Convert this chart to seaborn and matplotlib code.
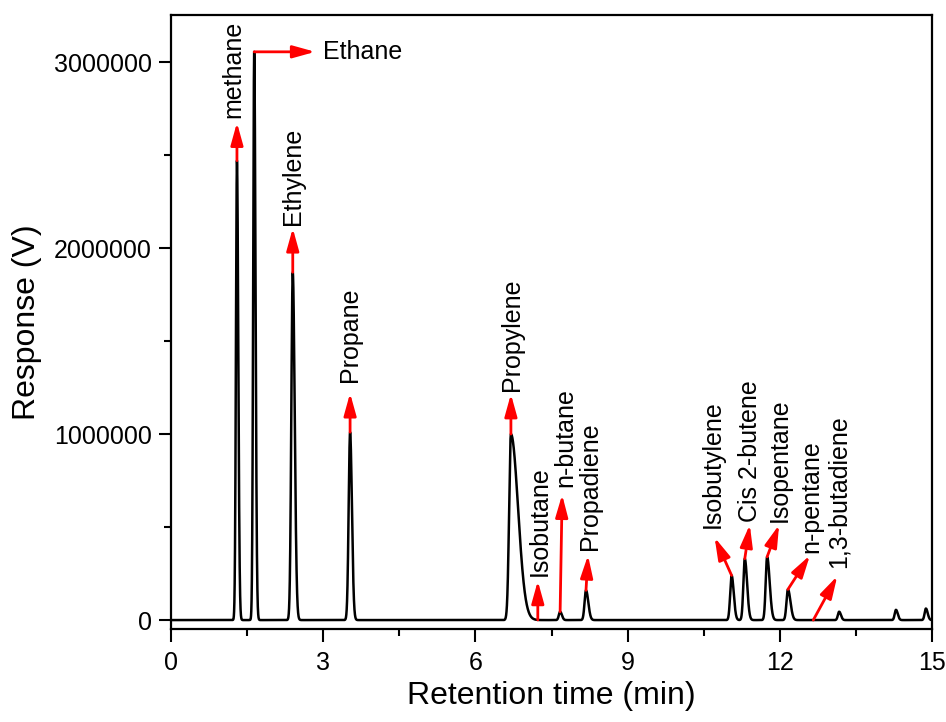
import numpy as np
import pandas as pd
import matplotlib
matplotlib.use("Agg")
import matplotlib.pyplot as plt
from matplotlib.ticker import MultipleLocator, FuncFormatter
import seaborn as sns

# Peak table of the chromatogram: retention time (min), height (V),
# and leading / trailing peak widths (min)
peak_time = [1.30, 1.64, 2.40, 3.53, 6.70, 7.67, 8.18, 11.05, 11.31, 11.75, 12.16, 13.17, 14.29, 14.88]
peak_height = [2470000, 3055000, 1870000, 1010000, 1000000, 45000, 160000, 240000, 330000, 340000, 165000, 45000, 55000, 62000]
sigma_lead = [0.020, 0.020, 0.028, 0.028, 0.035, 0.025, 0.028, 0.028, 0.028, 0.028, 0.028, 0.025, 0.025, 0.025]
sigma_tail = [0.026, 0.026, 0.038, 0.036, 0.140, 0.035, 0.045, 0.042, 0.045, 0.050, 0.050, 0.035, 0.035, 0.035]

# Compound labels: name, retention time, arrow-tip offset and label offset (pixels)
compounds = ["methane", "Ethane", "Ethylene", "Propane", "Propylene", "Isobutane", "n-butane",
             "Propadiene", "Isobutylene", "Cis 2-butene", "Isopentane", "n-pentane", "1,3-butadiene"]
compound_time = [1.30, 1.64, 2.40, 3.53, 6.70, 7.23, 7.67, 8.18, 11.05, 11.31, 11.75, 12.16, 12.66]
arrow_dx = [0, 61, 0, 0, 0, 0, 2, 2, -17, 5, 12, 22, 24]
arrow_dy = [38, 0, 44, 39, 40, 39, 117, 35, 38, 34, 32, 34, 44]
label_dx = [-4, 69, 0, 0, 1, 2, 5, 4, -19, 5, 13, 23, 25]
label_dy = [43, 0, 47, 50, 43, 44, 125, 40, 47, 37, 35, 36, 52]

x_ticks = [0, 3, 6, 9, 12, 15]
y_ticks = [0, 1000000, 2000000, 3000000]

# Build the detector trace as a sum of asymmetric Gaussian peaks
t = np.linspace(0, 15, 30001)
signal = np.zeros_like(t)
for t0, h, sl, st in zip(peak_time, peak_height, sigma_lead, sigma_tail):
    s = np.where(t < t0, sl, st)
    signal += h * np.exp(-0.5 * ((t - t0) / s) ** 2)
trace = pd.DataFrame({"Retention time (min)": t, "Response (V)": signal})

sns.set_style("ticks")
plt.rcParams["font.family"] = ["Liberation Sans", "DejaVu Sans"]
plt.rcParams["text.color"] = "black"
plt.rcParams["axes.labelcolor"] = "black"
plt.rcParams["xtick.color"] = "black"
plt.rcParams["ytick.color"] = "black"

fig = plt.figure(figsize=(9.46, 7.22), dpi=100)
ax = fig.add_axes([171 / 946, 1 - 629 / 722, (932 - 171) / 946, (629 - 15) / 722])

sns.lineplot(data=trace, x="Retention time (min)", y="Response (V)", ax=ax,
             color="black", linewidth=1.8, estimator=None, sort=False)

ax.set_xlim(0, 15)
ax.set_ylim(-48000, 3253000)
ax.set_xticks(x_ticks)
ax.set_yticks(y_ticks)
ax.xaxis.set_minor_locator(MultipleLocator(1.5))
ax.yaxis.set_minor_locator(MultipleLocator(500000))
ax.yaxis.set_major_formatter(FuncFormatter(lambda v, p: f"{int(round(v))}"))
ax.tick_params(which="major", direction="out", length=9, width=1.5, labelsize=18, pad=5,
               color="black", labelcolor="black")
ax.tick_params(axis="x", which="major", pad=7)
ax.tick_params(which="minor", direction="out", length=5, width=1.5, color="black")
ax.tick_params(top=False, right=False, which="both")
for sp in ax.spines.values():
    sp.set_visible(True)
    sp.set_linewidth(1.6)
    sp.set_color("black")

ax.set_xlabel("Retention time (min)", fontsize=23, labelpad=4, color="black")
ax.set_ylabel("Response (V)", fontsize=23, labelpad=8, color="black")

# Arrows and rotated compound labels
for name, ct, adx, ady, ldx, ldy in zip(compounds, compound_time, arrow_dx, arrow_dy, label_dx, label_dy):
    cy = float(np.interp(ct, t, signal))
    ax.annotate("", xy=(ct, cy), xytext=(adx, ady), textcoords="offset pixels",
                arrowprops=dict(arrowstyle="<|-,head_length=0.9,head_width=0.25", color="red",
                                lw=2.0, shrinkA=0, shrinkB=0, mutation_scale=15))
    if name == "Ethane":
        ax.annotate(name, xy=(ct, cy), xytext=(ldx, ldy), textcoords="offset pixels",
                    ha="left", va="center", fontsize=18, color="black")
    else:
        ax.annotate(name, xy=(ct, cy), xytext=(ldx, ldy), textcoords="offset pixels",
                    ha="center", va="bottom", rotation=90, fontsize=18, color="black")

fig.savefig("out.png", dpi=100)
